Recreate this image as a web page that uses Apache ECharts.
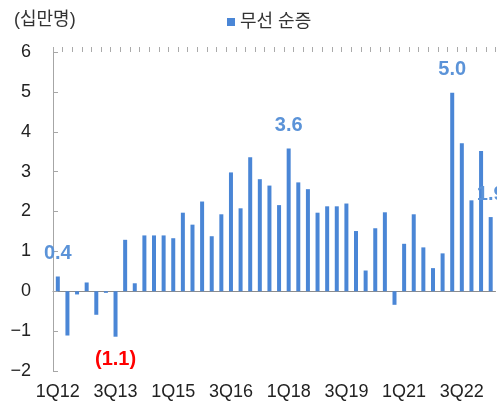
<!DOCTYPE html>
<html>
<head>
<meta charset="utf-8">
<script src="https://cdn.jsdelivr.net/npm/echarts@6/dist/echarts.min.js"></script>
<style>
  html, body { margin: 0; padding: 0; background: #fff; }
  #chart { width: 497px; height: 403px; }
</style>
</head>
<body>
<div id="chart"></div>
<script>
// 분기별 무선 순증 (십만명)
var quarters = [
  '1Q12','2Q12','3Q12','4Q12','1Q13','2Q13','3Q13','4Q13',
  '1Q14','2Q14','3Q14','4Q14','1Q15','2Q15','3Q15','4Q15',
  '1Q16','2Q16','3Q16','4Q16','1Q17','2Q17','3Q17','4Q17',
  '1Q18','2Q18','3Q18','4Q18','1Q19','2Q19','3Q19','4Q19',
  '1Q20','2Q20','3Q20','4Q20','1Q21','2Q21','3Q21','4Q21',
  '1Q22','2Q22','3Q22','4Q22','1Q23','2Q23'
];
var netAdds = [
  0.37, -1.11, -0.08, 0.22, -0.59, -0.04, -1.14, 1.29,
  0.20, 1.40, 1.40, 1.40, 1.33, 1.97, 1.67, 2.25,
  1.38, 1.93, 2.98, 2.08, 3.36, 2.81, 2.65, 2.16,
  3.58, 2.73, 2.56, 1.97, 2.13, 2.13, 2.20, 1.51,
  0.52, 1.58, 1.98, -0.34, 1.19, 1.93, 1.10, 0.58,
  0.95, 4.98, 3.71, 2.28, 3.52, 1.86
];
// 값 표시하는 막대만 (index -> text)
var callouts = { 0: '0.4', 6: '(1.1)', 24: '3.6', 41: '5.0', 45: '1.9' };
var yTicks = [-2, -1, 0, 1, 2, 3, 4, 5, 6];

var BLUE = '#4a86d6';
var FONT = '"Liberation Sans", Arial, "Noto Sans CJK KR", sans-serif';

var seriesData = netAdds.map(function (v, i) {
  var item = { value: v };
  if (callouts[i] !== undefined) {
    var neg = v < 0;
    item.label = {
      show: true,
      formatter: callouts[i],
      position: neg ? 'bottom' : 'top',
      distance: 13,
      color: neg ? '#ff0000' : '#5b93d8',
      fontWeight: 'bold',
      fontSize: 20,
      fontFamily: FONT
    };
  }
  return item;
});

var chart = echarts.init(document.getElementById('chart'));
var option = {
  animation: false,
  title: {
    text: '(십만명)',
    left: 9,
    top: 6,
    textStyle: { fontSize: 18, fontWeight: 'normal', color: '#333', fontFamily: FONT }
  },
  legend: {
    data: ['무선 순증'],
    left: 222,
    top: 8,
    icon: 'rect',
    itemWidth: 8,
    itemHeight: 8,
    itemGap: 4,
    textStyle: { fontSize: 18, color: '#333', fontFamily: FONT }
  },
  grid: { left: 53, right: 1.5, top: 52, bottom: 32, containLabel: false, outerBoundsMode: 'none' },
  xAxis: [
    {
      type: 'category',
      data: quarters,
      position: 'bottom',
      axisLine: { onZero: true, lineStyle: { color: '#8c8c8c', width: 1 } },
      axisTick: { interval: 0, length: 5, lineStyle: { color: '#999' } },
      axisLabel: { interval: 5, margin: 12, fontSize: 18, color: '#222', fontFamily: FONT },
      splitLine: { show: false }
    },
    {
      // 위쪽 눈금 (가로축에 걸친 눈금)
      type: 'category',
      data: quarters,
      position: 'top',
      axisLine: { onZero: true, show: false },
      axisTick: { show: true, interval: 0, length: 5, lineStyle: { color: '#aaa' } },
      axisLabel: { show: false },
      splitLine: { show: false }
    }
  ],
  yAxis: {
    type: 'value',
    min: yTicks[0],
    max: yTicks[yTicks.length - 1],
    interval: 1,
    axisLine: { show: true, lineStyle: { color: '#a6a6a6' } },
    axisTick: { show: true, inside: true, length: 5, lineStyle: { color: '#a6a6a6' } },
    axisLabel: {
      margin: 22,
      fontSize: 18,
      color: '#222',
      fontFamily: FONT,
      formatter: function (v) { return v < 0 ? '\u2212' + Math.abs(v) : String(v); }
    },
    splitLine: { show: false }
  },
  series: [
    {
      name: '무선 순증',
      type: 'bar',
      xAxisIndex: 0,
      barWidth: 4,
      itemStyle: { color: BLUE },
      data: seriesData
    }
  ]
};
chart.setOption(option);
</script>
</body>
</html>
